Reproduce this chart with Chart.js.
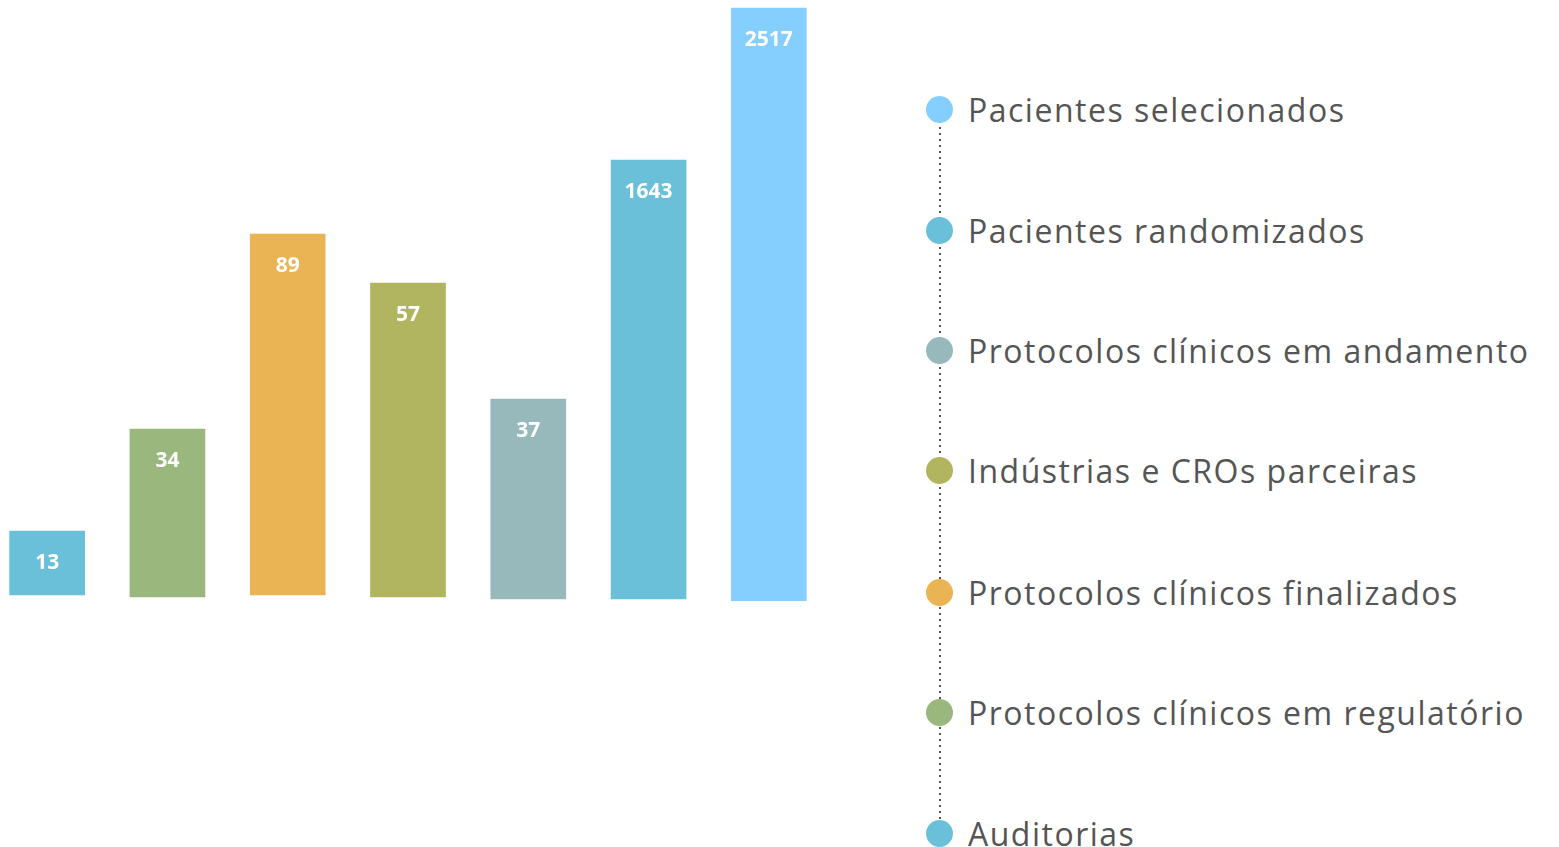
<!DOCTYPE html>
<html>
<head>
<meta charset="utf-8">
<script src="https://cdn.jsdelivr.net/npm/chart.js"></script>
<style>
    html, body { margin: 0; padding: 0; background: #fff; }
    body { width: 1559px; height: 847px; position: relative; overflow: hidden; font-family: "Open Sans", sans-serif; }
    #chart-wrap { position: absolute; left: -13px; top: 0; width: 842px; height: 601px; }
    #legend { position: absolute; left: 926px; top: 0; width: 633px; height: 847px; }
    #legend .line {
        position: absolute; left: 13px; width: 2px;
        background-image: linear-gradient(to bottom, #555 2px, transparent 2px);
        background-size: 2px 6px;
    }
    #legend .item { position: absolute; left: 0; height: 27px; display: flex; align-items: center; white-space: nowrap; }
    #legend .dot { width: 27px; height: 27px; border-radius: 50%; flex: none; }
    #legend .text { margin-left: 15px; font-size: 32px; color: #555; letter-spacing: 1.5px; }
</style>
</head>
<body>
<div id="chart-wrap"><canvas id="bars"></canvas></div>
<div id="legend"></div>
<script>
// values shown on the bars (left to right)
var barValues = [13, 34, 89, 57, 37, 1643, 2517];
// drawn bar extents (decorative, not to scale): [bottom, top]
var barBottoms = [6, 4, 6, 4, 2, 2, 0];
var barTops = [70, 172, 367, 318, 202, 441, 593];
var barColors = ['#6abfd9', '#9ab77e', '#eab354', '#b2b560', '#98b9bc', '#6abfd9', '#84cfff'];

// legend, top to bottom
var legendLabels = [
    'Pacientes selecionados',
    'Pacientes randomizados',
    'Protocolos clínicos em andamento',
    'Indústrias e CROs parceiras',
    'Protocolos clínicos finalizados',
    'Protocolos clínicos em regulatório',
    'Auditorias'
];
var legendColors = ['#84cfff', '#6abfd9', '#98b9bc', '#b2b560', '#eab354', '#9ab77e', '#6abfd9'];
var legendY = [109, 230, 350, 470, 592, 712, 833];

document.addEventListener('DOMContentLoaded', function() {
    drawBars();
    drawLegend();
});

var valueLabels = {
    id: 'valueLabels',
    afterDatasetsDraw: function(chart) {
        var ctx = chart.ctx;
        var meta = chart.getDatasetMeta(0);
        ctx.save();
        ctx.fillStyle = '#ffffff';
        ctx.font = 'bold 21px "Open Sans"';
        ctx.textAlign = 'center';
        ctx.textBaseline = 'middle';
        meta.data.forEach(function(bar, i) {
            ctx.fillText(String(barValues[i]), bar.x, bar.y + 32);
        });
        ctx.restore();
    }
};

function drawBars() {
    var ctx = document.getElementById('bars').getContext('2d');
    var floating = barValues.map(function(v, i) { return [barBottoms[i], barTops[i]]; });
    new Chart(ctx, {
        type: 'bar',
        data: {
            labels: barValues.map(String),
            datasets: [{
                data: floating,
                backgroundColor: barColors,
                borderWidth: 0,
                borderSkipped: false,
                barThickness: 75
            }]
        },
        options: {
            responsive: true,
            maintainAspectRatio: false,
            animation: false,
            layout: { padding: 0 },
            scales: {
                x: { display: false },
                y: { display: false, min: 0, max: 601 }
            },
            plugins: {
                legend: { display: false },
                tooltip: { enabled: false }
            }
        },
        plugins: [valueLabels]
    });
}

function drawLegend() {
    var box = document.getElementById('legend');
    var line = document.createElement('div');
    line.className = 'line';
    line.style.top = legendY[0] + 'px';
    line.style.height = (legendY[legendY.length - 1] - legendY[0]) + 'px';
    box.appendChild(line);
    legendLabels.forEach(function(label, i) {
        var item = document.createElement('div');
        item.className = 'item';
        item.style.top = (legendY[i] - 13) + 'px';
        var dot = document.createElement('div');
        dot.className = 'dot';
        dot.style.background = legendColors[i];
        var text = document.createElement('span');
        text.className = 'text';
        text.textContent = label;
        item.appendChild(dot);
        item.appendChild(text);
        box.appendChild(item);
    });
}
</script>
</body>
</html>
